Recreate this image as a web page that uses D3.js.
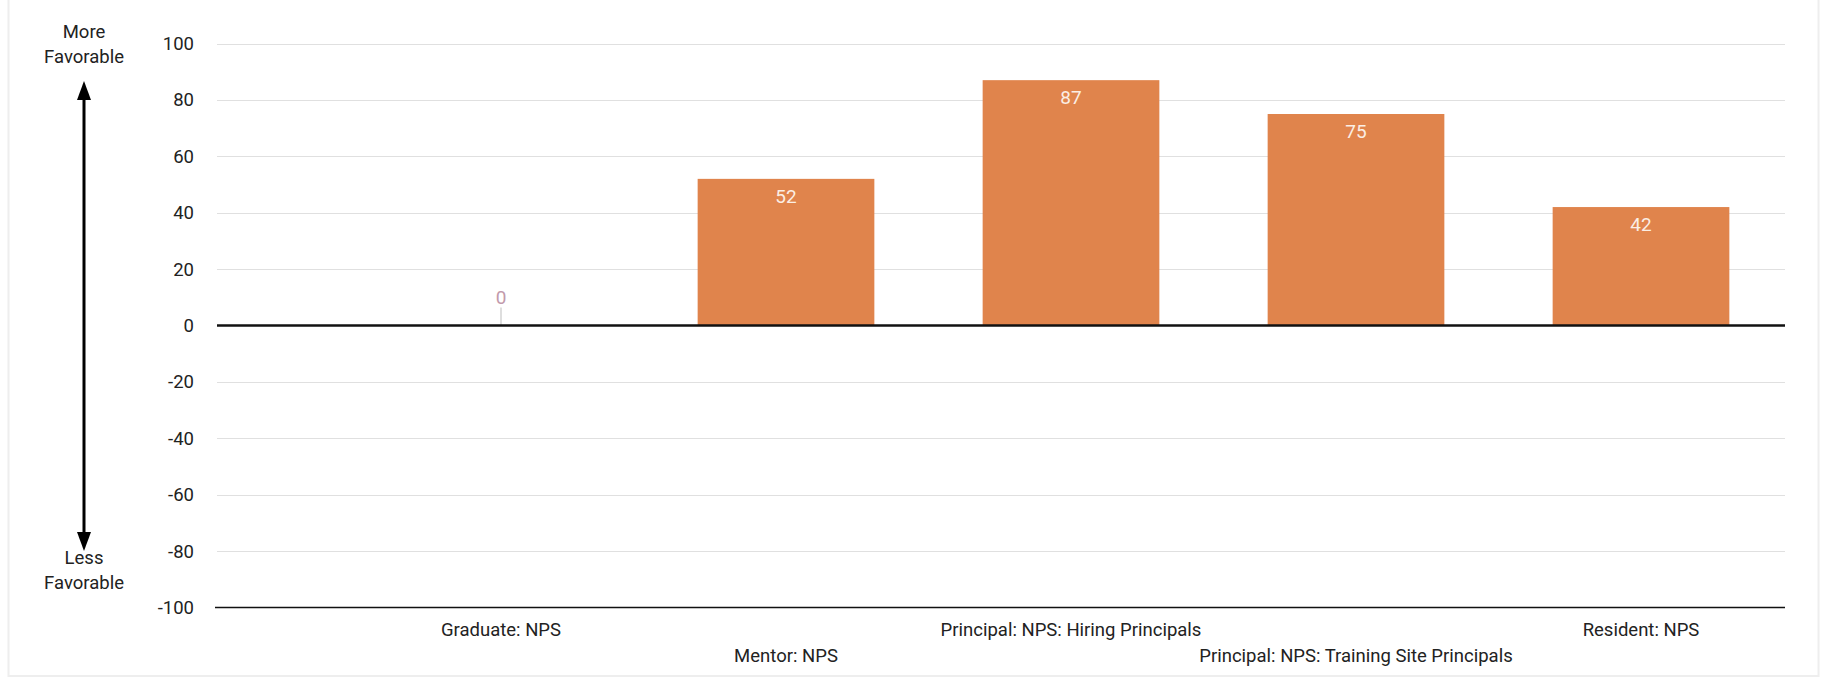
<!DOCTYPE html>
<html>
<head>
<meta charset="utf-8">
<script src="https://cdn.jsdelivr.net/npm/d3@7"></script>
<style>
  html, body { margin: 0; padding: 0; background: #fff; }
  svg { display: block; font-family: Roboto, "Noto Sans", sans-serif; }
</style>
</head>
<body>
<svg id="chart" width="1823" height="679"></svg>
<script>
const categories = [
  "Graduate: NPS",
  "Mentor: NPS",
  "Principal: NPS: Hiring Principals",
  "Principal: NPS: Training Site Principals",
  "Resident: NPS"
];
const values = [0, 52, 87, 75, 42];
const yTicks = [100, 80, 60, 40, 20, 0, -20, -40, -60, -80, -100];
const topNote = ["More", "Favorable"];
const bottomNote = ["Less", "Favorable"];

const W = 1823, H = 679;
const plotLeft = 217, plotRight = 1785;
const yTop = 43.5, yBottom = 607.5;
const barColor = "#e0844c";
const FS = 18.5;

const svg = d3.select("#chart");

// faint frame
svg.append("rect").attr("x", 8.5).attr("y", -2).attr("width", 1810).attr("height", 678)
  .attr("fill", "none").attr("stroke", "#eeeeee").attr("stroke-width", 2);

const y = d3.scaleLinear().domain([-100, 100]).range([yBottom, yTop]);
const x = d3.scaleBand().domain(categories)
  .range([358.5, 1783.5]).paddingInner(0.38).paddingOuter(0.19);

// gridlines
svg.append("g").selectAll("line").data(yTicks.filter(t => t !== 0 && t !== -100)).join("line")
  .attr("x1", plotLeft).attr("x2", plotRight)
  .attr("y1", d => Math.round(y(d)) + 0.5).attr("y2", d => Math.round(y(d)) + 0.5)
  .attr("stroke", "#e0e0e0").attr("stroke-width", 1.2);

// y-axis tick labels
const yAxis = d3.axisLeft(y).tickValues(yTicks).tickSize(0).tickPadding(0).tickFormat(d => String(d));
const yg = svg.append("g").attr("transform", `translate(194,0)`).call(yAxis);
yg.select(".domain").remove();
yg.selectAll("text").attr("font-size", FS).attr("fill", "#222")
  .attr("font-family", "Roboto, sans-serif");

// bars
svg.append("g").selectAll("rect").data(values).join("rect")
  .attr("x", (d, i) => x(categories[i]))
  .attr("width", x.bandwidth())
  .attr("y", d => y(Math.max(0, d)))
  .attr("height", d => Math.abs(y(d) - y(0)))
  .attr("fill", barColor);

// zero-value stem
values.forEach((v, i) => {
  if (v === 0) {
    const cx = x(categories[i]) + x.bandwidth() / 2;
    svg.append("line").attr("x1", cx).attr("x2", cx)
      .attr("y1", y(0) - 18).attr("y2", y(0))
      .attr("stroke", "#c8c8c8").attr("stroke-width", 1.2);
  }
});

// value labels
svg.append("g").selectAll("text").data(values).join("text")
  .attr("x", (d, i) => x(categories[i]) + x.bandwidth() / 2)
  .attr("y", d => d === 0 ? y(0) - 22 : y(d) + 24)
  .attr("text-anchor", "middle")
  .attr("font-size", 19)
  .attr("fill", d => d === 0 ? "#c29aab" : "#fbeee4")
  .text(d => d);

// zero line and baseline
svg.append("line").attr("x1", plotLeft).attr("x2", plotRight)
  .attr("y1", y(0)).attr("y2", y(0)).attr("stroke", "#111").attr("stroke-width", 2.5);
svg.append("line").attr("x1", plotLeft - 2).attr("x2", plotRight)
  .attr("y1", y(-100)).attr("y2", y(-100)).attr("stroke", "#111").attr("stroke-width", 1.6);

// x-axis labels (staggered)
const xAxis = d3.axisBottom(x).tickSize(0).tickPadding(0);
const xg = svg.append("g").attr("transform", `translate(0,${yBottom})`).call(xAxis);
xg.select(".domain").remove();
xg.selectAll("text")
  .attr("font-size", FS).attr("fill", "#222")
  .attr("font-family", "Roboto, sans-serif")
  .attr("dy", null)
  .attr("y", (d, i) => i % 2 === 0 ? 28 : 54);

// side notes with double arrow
const ax = 84;
svg.append("g").selectAll("text").data(topNote).join("text")
  .attr("x", ax).attr("y", (d, i) => 38 + i * 25)
  .attr("text-anchor", "middle").attr("font-size", FS).attr("fill", "#222").text(d => d);
svg.append("g").selectAll("text").data(bottomNote).join("text")
  .attr("x", ax).attr("y", (d, i) => 564 + i * 25)
  .attr("text-anchor", "middle").attr("font-size", FS).attr("fill", "#222").text(d => d);

svg.append("line").attr("x1", ax).attr("x2", ax).attr("y1", 96).attr("y2", 536)
  .attr("stroke", "#000").attr("stroke-width", 3);
svg.append("path").attr("d", `M${ax},81 L${ax - 7},100 L${ax + 7},100 Z`).attr("fill", "#000");
svg.append("path").attr("d", `M${ax},551 L${ax - 7},532 L${ax + 7},532 Z`).attr("fill", "#000");
</script>
</body>
</html>
